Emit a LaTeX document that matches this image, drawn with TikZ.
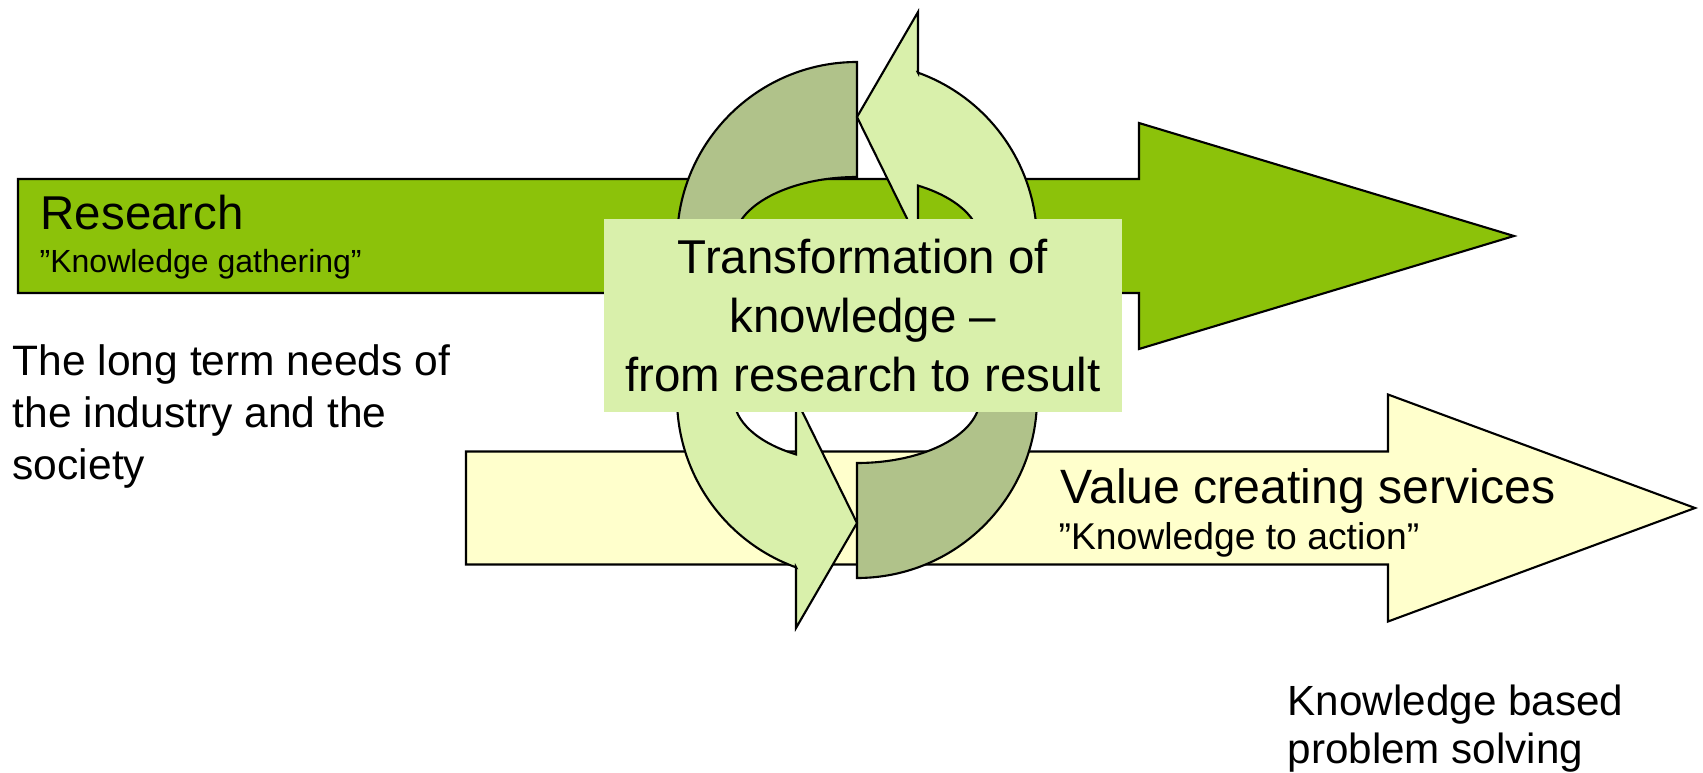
\documentclass[tikz,border=0pt]{standalone}
\usepackage{fontspec}
\setmainfont{Liberation Sans}

\definecolor{researchgreen}{RGB}{140,194,10}
\definecolor{serviceyellow}{RGB}{255,255,204}
\definecolor{cyclelight}{RGB}{217,240,171}
\definecolor{cycledark}{RGB}{176,194,138}

\tikzset{
	flow/.style={draw=black,line width=0.6pt,line join=miter},
	ringpart/.style={draw=black,line width=0.6pt},
	headline/.style={inner sep=0,anchor=base west,font=\fontsize{13.5}{15}\selectfont},
	subline/.style={inner sep=0,anchor=base west,font=\fontsize{9.1}{11}\selectfont},
	remark/.style={inner sep=0,anchor=north west,align=left}
}

\newcommand{\flowarrow}[7]
{
	\draw[flow,fill=#1] (#2,#5+#6) -- (#3,#5+#6) -- (#3,#5+#7) -- (#4,#5) -- (#3,#5-#7) -- (#3,#5-#6) -- (#2,#5-#6) -- cycle
}

\newcommand{\cyclehalf}[1]
{
	\begin{scope}[rotate around={#1:(857,-320)}]
		% dark tail
		\draw[ringpart,fill=cycledark] (857,-62) arc[start angle=90,end angle=180,radius=180] -- (677,-320) -- (734,-320) -- (734,-242) arc[start angle=180,end angle=90,x radius=123,y radius=65] -- cycle;
		% light part with its head
		\draw[ringpart,fill=cyclelight] (918,-72.7) -- (918,-12) -- (857,-117) -- (918,-241) -- (918,-185.6) arc[start angle=60.3,end angle=0,x radius=123,y radius=65] -- (980,-320) -- (1037,-320) -- (1037,-242) arc[start angle=0,end angle=70.2,radius=180] -- cycle;
	\end{scope}
}

\begin{document}
\begin{tikzpicture}[x=0.01cm,y=0.01cm]
	\useasboundingbox (0,0) rectangle (1703,-773);
	
	%%% Research
	\flowarrow{researchgreen}{18}{1139}{1514}{-236}{57}{113};
	\node[headline] (research) at (40,-230) {Research};
	\node[subline] (gathering) at (39,-272) {”Knowledge gathering”};
	
	%%% Value creating services
	\flowarrow{serviceyellow}{466}{1388}{1695}{-508}{56.5}{113.5};
	\node[headline,font=\fontsize{13.7}{15}\selectfont] (services) at (1060,-503) {Value creating services};
	\node[subline,font=\fontsize{10.6}{12}\selectfont] (action) at (1058,-549) {”Knowledge to action”};
	
	%%% Cycle
	\cyclehalf{0}
	\cyclehalf{180}
	
	\node[fill=cyclelight,inner sep=0,minimum width=5.18cm,minimum height=1.93cm,align=center,font=\fontsize{13.5}{16.8}\selectfont] (transform) at (863,-315.5) {Transformation of\\knowledge –\\from research to result};
	
	%%% Texts below
	\node[remark,font=\fontsize{12.1}{14.8}\selectfont] (needs) at (12,-344) {The long term needs of\\the industry and the\\society};
	\node[remark,font=\fontsize{12}{13.8}\selectfont] (solving) at (1287,-684) {Knowledge based\\problem solving};
	
\end{tikzpicture}
\end{document}
